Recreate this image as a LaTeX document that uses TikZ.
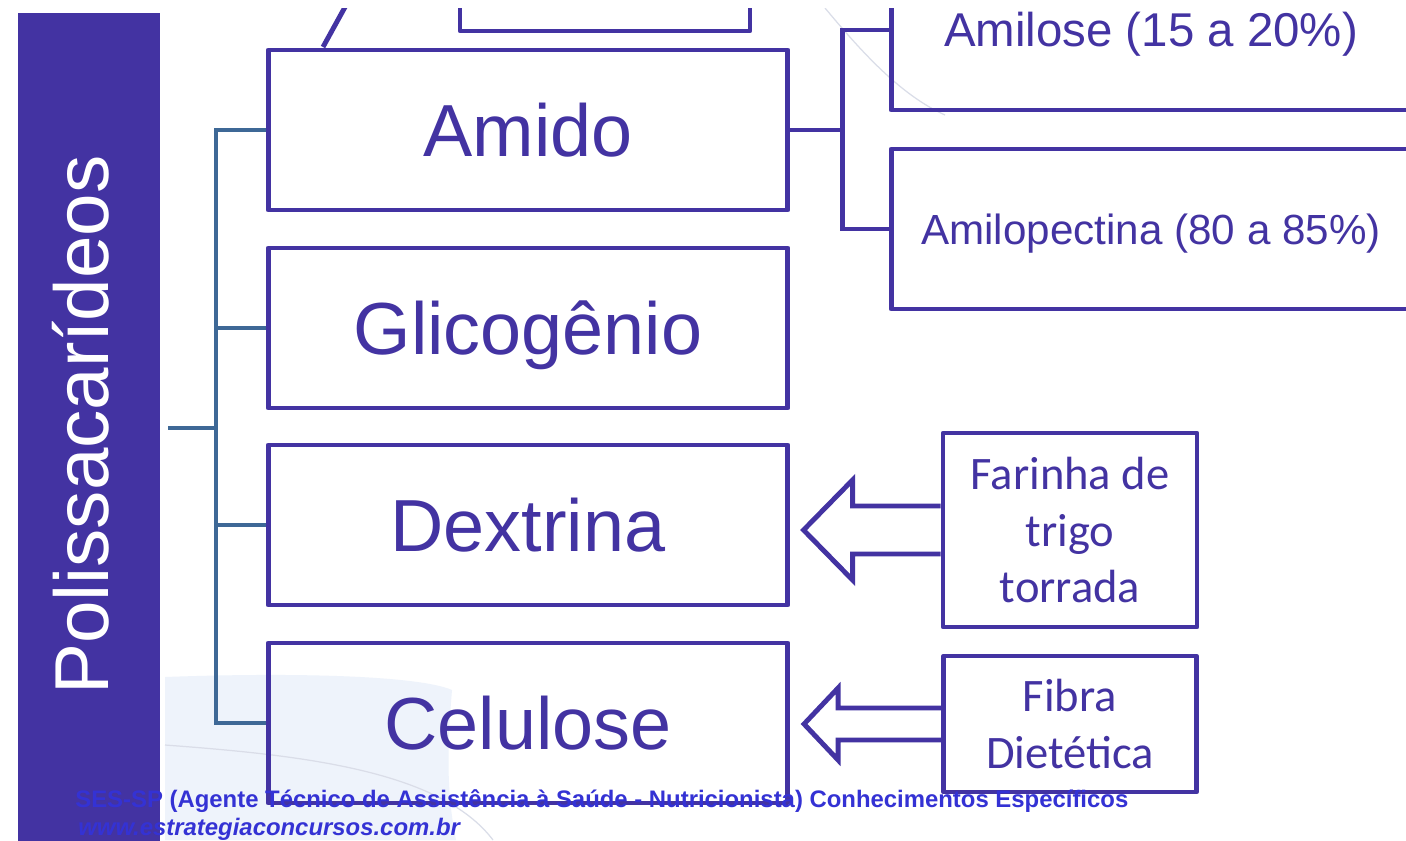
\documentclass[tikz,border=0pt]{standalone}
\usepackage{fontspec}
\setmainfont{Liberation Sans}
\newfontfamily\calibri{Carlito}
\usetikzlibrary{positioning,calc}
\definecolor{slidepurple}{RGB}{67,51,162}
\definecolor{steelline}{RGB}{62,104,150}
\definecolor{footblue}{RGB}{52,50,212}
\definecolor{paleblue}{RGB}{238,243,251}
\definecolor{arcgrey}{RGB}{218,221,232}

\begin{document}
\begin{tikzpicture}
[x=0.02cm, y=-0.02cm,
 box/.style={rectangle,draw=slidepurple,line width=2.8pt,line join=round,minimum width=10.4cm,minimum height=3.2cm,inner sep=0pt,text=slidepurple,font=\fontsize{42}{46}\selectfont,text height=30pt,text depth=0pt},
 subbox/.style={box,font=\fontsize{27}{30}\selectfont,text height=19.3pt},
 notebox/.style={rectangle,draw=slidepurple,line width=2.8pt,line join=round,inner sep=0pt,text=slidepurple,align=center,font=\calibri\fontsize{26.5}{32.3}\selectfont},
 link/.style={draw=steelline,line width=2.3pt},
 sublink/.style={draw=slidepurple,line width=2.8pt},
 blockarrow/.style={draw=slidepurple,line width=2.8pt,line join=miter},
 foot/.style={anchor=base west,inner sep=0pt,text=footblue,font=\bfseries\fontsize{13.6}{15}\selectfont}]

\useasboundingbox (0,0) rectangle (1406,840);
\fill[white] (0,0) rectangle (1406,840);
\clip (0,8) rectangle (1406,840);

% slide background
\fill[paleblue] (165,677) .. controls (300,672) and (420,676) .. (452,690) .. controls (446,760) and (448,800) .. (456,840) -- (165,840) -- cycle;
\draw[arcgrey,line width=0.7pt] (165,745) .. controls (300,755) and (440,770) .. (493,840);
\draw[arcgrey,line width=0.7pt] (825,8) .. controls (860,50) and (900,95) .. (945,115);

% left panel
\node[fill=slidepurple,inner sep=0pt,minimum width=2.84cm,minimum height=16.8cm] (panel) at (89,433) {};
\node[rotate=90,inner sep=0pt,text=white,font=\fontsize{43.5}{46}\selectfont,text height=31pt,text depth=0pt] (title) at (81,425) {Polissacarídeos};

% main boxes
\node[box] (amido) at (528,130) {Amido};
\node[box] (glico) at (528,328) {Glicogênio};
\node[box] (dextrina) at (528,525) {Dextrina};
\node[box] (celulose) at (528,723) {Celulose};

% tree
\coordinate (stem) at (168,428);
\coordinate (hub) at (216,428);
\draw[link] (stem) -- (hub);
\foreach \b in {amido,glico,dextrina,celulose}
  \draw[link] (hub) |- (\b.west);

% top, cut by the slide
\node[box,minimum width=5.8cm] (topbox) at (605,-49) {};
\coordinate (slantA) at (323,47);
\coordinate (slantB) at (350,-2);
\draw[sublink] (slantA) -- (slantB);

% amido parts
\node[subbox] (amilose) at (1151,30) {Amilose (15 a 20\%)};
\node[subbox,font=\fontsize{24}{28}\selectfont,text height=17.2pt] (amilopectina) at (1151,229) {Amilopectina (80 a 85\%)};
\draw[sublink] (amido.east) -- ++(52,0) |- (amilose.west);
\draw[sublink] (amido.east) -- ++(52,0) |- (amilopectina.west);

% notes with block arrows
\node[notebox,minimum width=5.08cm,minimum height=3.88cm] (farinha) at (1070,530) {Farinha de\\trigo\\torrada};
\node[notebox,minimum width=5.06cm,minimum height=2.72cm] (fibra) at (1070,724) {Fibra\\Dietética};
\draw[blockarrow] (farinha.west) ++(0,-24) -- ++(-88,0) -- ++(0,-26) -- ++(-49,50) -- ++(49,50) -- ++(0,-26) -- ++(88,0);
\draw[blockarrow] (fibra.west) ++(0,-16) -- ++(-103,0) -- ++(0,-20) -- ++(-34,36) -- ++(34,36) -- ++(0,-20) -- ++(103,0);

% footer
\node[foot] (course) at (75,807) {SES-SP (Agente Técnico de Assistência à Saúde - Nutricionista) Conhecimentos Específicos};
\node[foot,font=\bfseries\itshape\fontsize{13.6}{15}\selectfont] (site) at (78,835) {www.estrategiaconcursos.com.br};
\end{tikzpicture}
\end{document}
